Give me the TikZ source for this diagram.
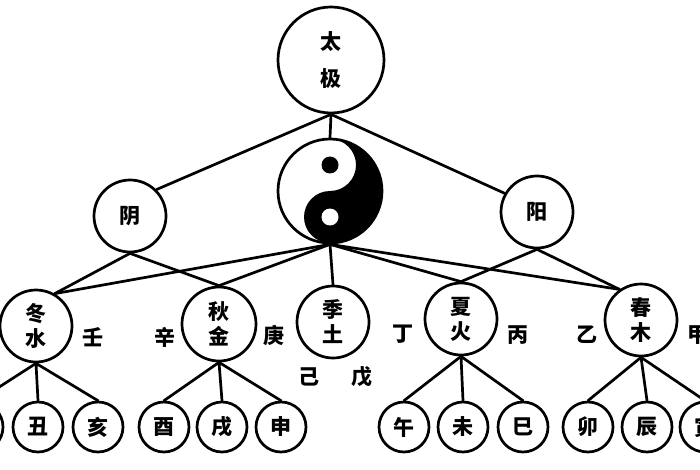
\documentclass[tikz,border=0pt]{standalone}
\usepackage{fontspec}
\newfontfamily\cjk{Noto Sans CJK SC}
\begin{document}
\begin{tikzpicture}[x=1pt,y=-1pt,line width=2.7pt,line cap=round,
    ball/.style={circle,draw,inner sep=0pt,align=center,font=\cjk\bfseries\fontsize{21}{25}\selectfont},
    elem/.style={ball,minimum size=72pt},
    leaf/.style={ball,minimum size=50pt},
    gan/.style={inner sep=0pt,font=\cjk\bfseries\fontsize{21}{25}\selectfont}]
    \clip (0,0) rectangle (700,470);
    \node[ball,minimum size=106pt,font=\cjk\bfseries\fontsize{21}{37}\selectfont] (taiji) at (331,60) {太\\极};
    \node[circle,draw,minimum size=104pt] (yy) at (330,191) {};
    \begin{scope}[shift={(yy.center)},y=1pt]
        \fill (0,52) arc[start angle=90,end angle=-90,radius=52]
            arc[start angle=-90,end angle=-270,radius=26]
            arc[start angle=-90,end angle=90,radius=26] -- cycle;
        \fill (0,26) circle[radius=8.5];
        \fill[white] (0,-26) circle[radius=8.5];
    \end{scope}
    \node[elem] (yin) at (130,216) {阴};
    \node[elem] (yang) at (537,212) {阳};
    \node[elem] (dong) at (36,326) {冬\\水};
    \node[elem,minimum size=74pt] (qiu) at (219,324) {秋\\金};
    \node[elem] (ji) at (333,322) {季\\土};
    \node[elem] (xia) at (461,319) {夏\\火};
    \node[elem] (chun) at (641,320) {春\\木};
    \foreach \n/\x/\t in {zi/-22/子,chou/38/丑,hai/98/亥,you/164/酉,xu/222/戌,shen/281/申,
        wu/404/午,wei/463/未,si/523/巳,mao/588/卯,chen/647/辰,yinb/705/寅}
        \node[leaf] (\n) at (\x,427) {\t};
    \foreach \n/\x/\y/\t in {ren/93/337/壬,xin/165/337/辛,geng/274/335/庚,ding/403/334/丁,
        bing/518/335/丙,yi/587/335/乙,jia/698/335/甲,jib/309/377/己,wuc/362/377/戊}
        \node[gan] (\n) at (\x,\y) {\t};
    \draw (taiji.south) -- (yy.north);
    \draw (taiji.south) -- (yin.45);
    \draw (taiji.south) -- (yang.150);
    \foreach \e in {dong.60,qiu.north,ji.north,xia.north,chun.125}
        \draw (yy.south) -- (\e);
    \draw (yin.south) -- (dong.60) (yin.south) -- (qiu.north);
    \draw (yang.south) -- (xia.north) (yang.south) -- (chun.125);
    \foreach \p/\a/\b/\c in {dong/zi/chou/hai,qiu/you/xu/shen,xia/wu/wei/si,chun/mao/chen/yinb}
        \draw (\p.south) -- (\a.north) (\p.south) -- (\b.north) (\p.south) -- (\c.north);
\end{tikzpicture}
\end{document}
